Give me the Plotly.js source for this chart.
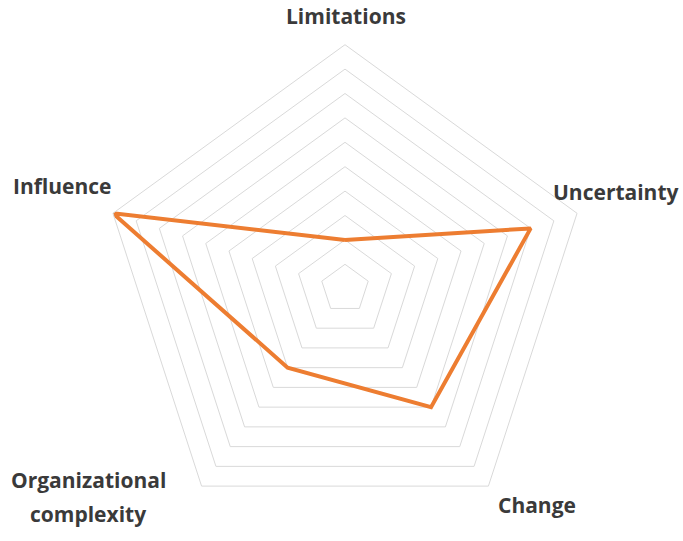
<!DOCTYPE html>
<html>
<head>
<meta charset="utf-8">
<script src="https://cdn.plot.ly/plotly-3.0.1.min.js"></script>
<style>html,body{margin:0;padding:0;background:#fff;}#chart{width:683px;height:541px;}</style>
</head>
<body>
<div id="chart"></div>
<script>
var categories = ["Limitations", "Uncertainty", "Change", "Organizational complexity", "Influence"];
var values = [2, 8, 6, 4, 10];
var radialMax = 10;

var W = 683, H = 541;
var cx = 345, cy = 288.7, R = 244;

var labelPos = [
  {text: "Limitations", x: 346, y: 16},
  {text: "Uncertainty", x: 616, y: 192},
  {text: "Change", x: 537, y: 505},
  {text: "Organizational", x: 88, y: 480},
  {text: "complexity", x: 88, y: 514},
  {text: "Influence", x: 62, y: 186}
];

var trace = {
  type: "scatterpolar",
  r: values.concat([values[0]]),
  theta: categories.concat([categories[0]]),
  mode: "lines",
  line: {color: "#ED7D31", width: 4},
  hoverinfo: "skip",
  showlegend: false
};

var layout = {
  width: W, height: H,
  margin: {l: 0, r: 0, t: 0, b: 0},
  paper_bgcolor: "#ffffff",
  showlegend: false,
  polar: {
    domain: {x: [(cx - R) / W, (cx + R) / W], y: [(H - cy - R) / H, (H - cy + R) / H]},
    gridshape: "linear",
    bgcolor: "rgba(0,0,0,0)",
    radialaxis: {
      range: [0, radialMax], dtick: 1, showticklabels: false, ticks: "",
      showline: false, gridcolor: "#d9d9d9", gridwidth: 1
    },
    angularaxis: {
      rotation: 90, direction: "clockwise", showticklabels: false, ticks: "",
      showgrid: false, showline: true, linecolor: "#d9d9d9", linewidth: 1
    }
  },
  annotations: labelPos.map(function (p) {
    return {
      text: p.text, x: p.x / W, y: 1 - p.y / H, xref: "paper", yref: "paper",
      xanchor: "center", yanchor: "middle", showarrow: false,
      font: {family: "Open Sans", size: 21, color: "#3a3a3a", weight: 700}
    };
  })
};

Plotly.newPlot("chart", [trace], layout, {displayModeBar: false, staticPlot: true});
</script>
</body>
</html>
